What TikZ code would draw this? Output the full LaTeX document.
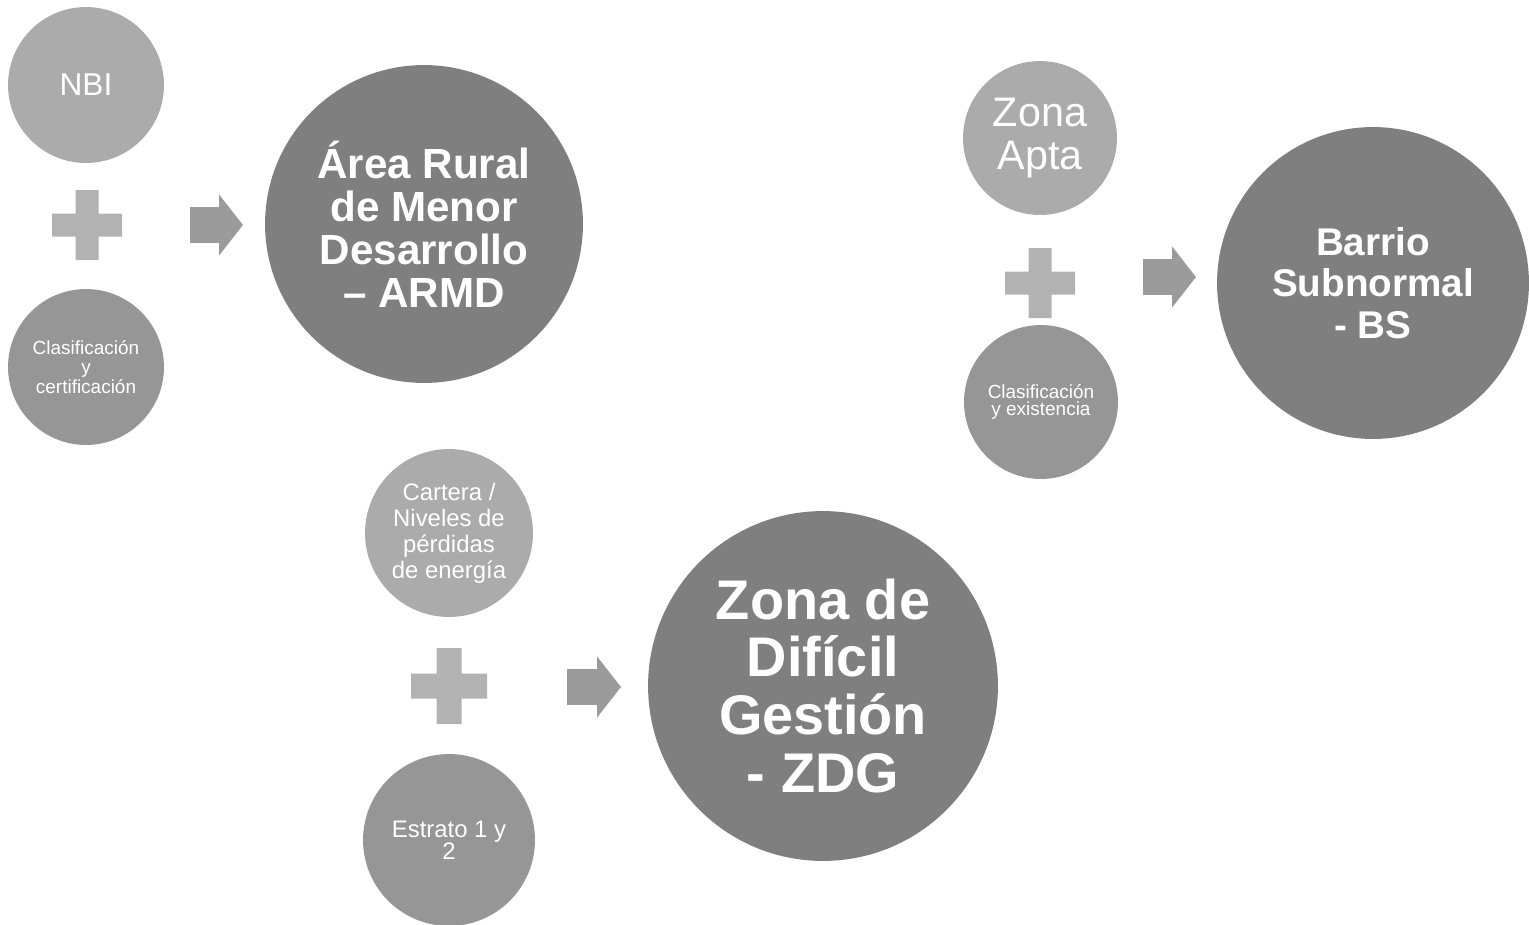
\documentclass[tikz,border=0pt]{standalone}
\usepackage{fontspec}
\setmainfont{Liberation Sans}
\usetikzlibrary{arrows.meta}
\definecolor{lightc}{RGB}{171,171,171}
\definecolor{midc}{RGB}{150,150,150}
\definecolor{darkc}{RGB}{127,127,127}
\definecolor{plusc}{RGB}{178,178,178}
\definecolor{arrowc}{RGB}{155,155,155}
\tikzset{
  ball/.style={circle, fill=#1, text=white, align=center, inner sep=0pt},
  rad/.style={minimum size=#1*0.04cm},
  fat/.style={draw=arrowc, line width=0.72cm, -{Triangle[length=0.48cm,width=1.2cm]}},
  plusfill/.style={fill=plusc}
}
\begin{document}
\begin{tikzpicture}[x=0.02cm, y=-0.02cm]
  \useasboundingbox (0,0) rectangle (1529,924);
  % ARMD
  \node[ball=lightc, rad=78, font=\fontsize{18}{20}\selectfont] (nbi) at (86,85) {NBI};
  \node[ball=midc, rad=78, font=\fontsize{10.8}{11}\selectfont] (clascert) at (86,367) {Clasificación\\y\\certificación};
  \coordinate (plusA) at (87,225);
  \fill[plusfill] (plusA) +(-35,-11.5) rectangle +(35,11.5) +(-11.5,-35) rectangle +(11.5,35);
  \node[ball=darkc, rad=159, font=\bfseries\fontsize{24}{24.5}\selectfont] (armd) at (424,224) {Área Rural\\de Menor\\Desarrollo\\– ARMD};
  \coordinate (arA) at (190,225);
  \coordinate (arB) at (243,225);
  \draw[fat] (arA) -- (arB);
  % BS
  \node[ball=lightc, rad=77, font=\fontsize{23.5}{24}\selectfont] (apta) at (1040,138) {Zona\\Apta};
  \node[ball=midc, rad=77, font=\fontsize{10.8}{10}\selectfont] (clasexist) at (1041,402) {Clasificación\\y existencia};
  \coordinate (plusB) at (1040,283);
  \fill[plusfill] (plusB) +(-35,-11.5) rectangle +(35,11.5) +(-11.5,-35) rectangle +(11.5,35);
  \node[ball=darkc, rad=156, font=\bfseries\fontsize{22}{23.5}\selectfont] (bs) at (1373,283) {Barrio\\Subnormal\\- BS};
  \coordinate (arC) at (1143,277);
  \coordinate (arD) at (1196,277);
  \draw[fat] (arC) -- (arD);
  % ZDG
  \node[ball=lightc, rad=84, font=\fontsize{13.6}{14.8}\selectfont] (cartera) at (449,533) {Cartera /\\Niveles de\\pérdidas\\de energía};
  \node[ball=midc, rad=86, font=\fontsize{13.6}{12.5}\selectfont] (estrato) at (449,840) {Estrato 1 y\\2};
  \coordinate (plusC) at (449,686);
  \fill[plusfill] (plusC) +(-38,-12.5) rectangle +(38,12.5) +(-12.5,-38) rectangle +(12.5,38);
  \node[ball=darkc, rad=175, font=\bfseries\fontsize{31.8}{33}\selectfont] (zdg) at (823,686) {Zona de\\Difícil\\Gestión\\- ZDG};
  \coordinate (arE) at (567,687);
  \coordinate (arF) at (621,687);
  \draw[fat] (arE) -- (arF);
\end{tikzpicture}
\end{document}
